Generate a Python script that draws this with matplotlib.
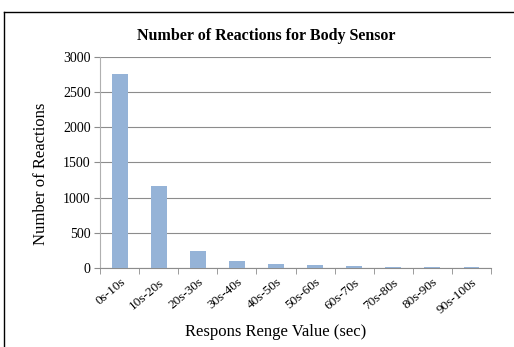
import numpy as np
import matplotlib
matplotlib.use("Agg")
import matplotlib.pyplot as plt
from matplotlib.lines import Line2D

categories = ["0s-10s", "10s-20s", "20s-30s", "30s-40s", "40s-50s",
              "50s-60s", "60s-70s", "70s-80s", "80s-90s", "90s-100s"]
reactions = [2755, 1170, 245, 100, 52, 40, 20, 8, 8, 6]

plt.rcParams['font.family'] = ['Liberation Serif', 'DejaVu Serif']

fig = plt.figure(figsize=(5.14, 3.47), dpi=100)
ax = fig.add_axes([0.195, 0.228, 0.76, 0.608])

x = np.arange(len(categories))
ax.bar(x, reactions, width=0.4, color='#95b3d7', zorder=3)

ax.set_xlim(-0.5, len(categories) - 0.5)
ax.set_ylim(0, 3000)
ax.set_yticks(np.arange(0, 3001, 500))
ax.yaxis.grid(True, color='#8c8c8c', linewidth=0.8, zorder=0)
for s in ['top', 'right']:
    ax.spines[s].set_visible(False)
ax.spines['bottom'].set_color('#8c8c8c')
ax.spines['left'].set_color('#b0b0b0')
ax.tick_params(axis='y', length=4, color='#8c8c8c', labelsize=10, pad=3)

ax.set_xticks(x)
ax.set_xticklabels(categories, rotation=40, ha='right', rotation_mode='anchor', fontsize=9.5)
ax.tick_params(axis='x', length=0, pad=6)
ax.set_xticks(np.arange(-0.5, len(categories)), minor=True)
ax.tick_params(axis='x', which='minor', length=4, color='#8c8c8c', direction='out')

ax.set_title("Number of Reactions for Body Sensor", fontsize=11.5, fontweight='bold',
             x=0.425, y=1.0, pad=12)
ax.set_xlabel("Respons Renge Value (sec)", fontsize=12)
ax.xaxis.set_label_coords(0.448, -0.265)
ax.set_ylabel("Number of Reactions", fontsize=12)
ax.yaxis.set_label_coords(-0.13, 0.445)

# frame edges visible at top and left
fig.add_artist(Line2D([0.008, 1.0], [0.965, 0.965], color='black', linewidth=1.0))
fig.add_artist(Line2D([0.008, 0.008], [0.0, 0.965], color='black', linewidth=1.0))

fig.savefig("out.png", dpi=100)
